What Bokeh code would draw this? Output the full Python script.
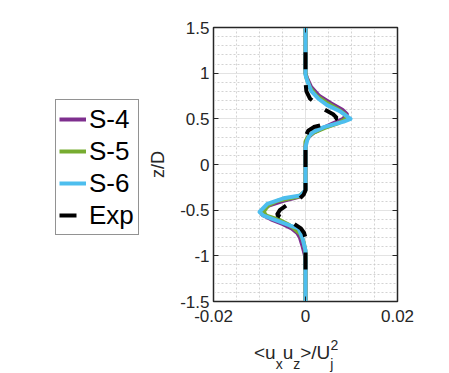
from bokeh.plotting import figure
from bokeh.models import (FixedTicker, Legend, LegendItem, LinearAxis, Range1d, Div)
from bokeh.layouts import column, row
from bokeh.embed import file_html
from bokeh.resources import INLINE

# ---------------- data ----------------
s4_z = [1.5, 1.0, 0.95, 0.85, 0.75, 0.67, 0.6, 0.55, 0.5, 0.45, 0.4, 0.35, 0.3, 0.25, 0.2,
        -0.28, -0.3, -0.35, -0.4, -0.45, -0.5, -0.55, -0.6, -0.65, -0.7, -0.75, -0.8, -0.9, -1.0, -1.05, -1.5]
s4_v = [0.0, 0.0, 0.0003, 0.0012, 0.0030, 0.0055, 0.0080, 0.0090, 0.0082, 0.0060, 0.0038, 0.0018, 0.0006, 0.0001, 0.0,
        0.0, -0.0002, -0.0012, -0.0050, -0.0080, -0.0093, -0.0094, -0.0075, -0.0050, -0.0030, -0.0018, -0.0012, -0.0006, -0.0001, 0.0, 0.0]

s5_z = [1.5, 1.0, 0.95, 0.85, 0.75, 0.67, 0.6, 0.55, 0.5, 0.45, 0.4, 0.35, 0.3, 0.25,
        -0.28, -0.3, -0.35, -0.4, -0.45, -0.52, -0.56, -0.61, -0.66, -0.7, -0.76, -0.85, -0.95, -1.5]
s5_v = [0.0, 0.0, 0.0002, 0.0009, 0.0024, 0.0048, 0.0072, 0.0086, 0.0088, 0.0070, 0.0042, 0.0018, 0.0005, 0.0,
        0.0, -0.0002, -0.0015, -0.0062, -0.0082, -0.0091, -0.0085, -0.0055, -0.0036, -0.0025, -0.0011, -0.0004, 0.0, 0.0]

s6_z = [1.5, 0.98, 0.9, 0.8, 0.72, 0.65, 0.58, 0.5, 0.47, 0.41, 0.36, 0.32, 0.27, 0.19,
        -0.28, -0.34, -0.37, -0.43, -0.52, -0.56, -0.61, -0.67, -0.70, -0.8, -0.94, -1.5]
s6_v = [0.0, 0.0, 0.0005, 0.0013, 0.0028, 0.0047, 0.0076, 0.0098, 0.0083, 0.0040, 0.0018, 0.0009, 0.0004, 0.0,
        0.0, -0.0011, -0.0048, -0.0083, -0.0100, -0.0091, -0.0065, -0.0033, -0.0015, -0.0007, 0.0, 0.0]

exp_z = [1.23, 0.9, 0.8, 0.72, 0.66, 0.6, 0.55, 0.51, 0.47, 0.44, 0.41, 0.37, 0.32, 0.28,
         -0.28, -0.33, -0.37, -0.41, -0.45, -0.5, -0.55, -0.6, -0.65, -0.7, -0.75, -0.8, -1.25]
exp_v = [0.0, 0.0, 0.0002, 0.0010, 0.0025, 0.0042, 0.0060, 0.0068, 0.0058, 0.0040, 0.0018, 0.0006, 0.0001, 0.0,
         0.0, -0.0004, -0.0012, -0.0028, -0.0042, -0.0056, -0.0062, -0.0045, -0.0025, -0.0010, -0.0003, 0.0, 0.0]

series_names = ["S-4", "S-5", "S-6", "Exp"]
series_colors = ["#7E2F8E", "#77AC30", "#4DBEEE", "#000000"]

x_ticks = [-0.02, 0.0, 0.02]
x_tick_labels = ["-0.02", "0", "0.02"]
x_minor = [-0.015, -0.01, -0.005, 0.005, 0.01, 0.015]
y_ticks = [-1.5, -1.0, -0.5, 0.0, 0.5, 1.0, 1.5]
y_tick_labels = ["-1.5", "-1", "-0.5", "0", "0.5", "1", "1.5"]
y_minor = [round(-1.5 + 0.1 * i, 1) for i in range(31)]
y_label = "z/D"
x_label_html = ("&lt;u<span class='sb'>x</span>u<span class='sb'>z</span>&gt;/U"
                "<span class='sb'>j</span><span class='sp'>2</span>")

FONT = "Liberation Sans"
TXT = "#262626"
LW = 4
EXP_DASH = "17 16"

# ---------------- main figure ----------------
LEG_W = 140
W, H = 433, 336
p = figure(width=W - LEG_W, height=H, output_backend="svg", toolbar_location=None,
           x_range=Range1d(-0.02, 0.02), y_range=Range1d(-1.5, 1.5),
           min_border_left=73, min_border_right=36, min_border_top=27, min_border_bottom=35,
           background_fill_color="white", border_fill_color="white")
p.outline_line_color = "#262626"
p.outline_line_width = 1.5

xt = FixedTicker(ticks=x_ticks, minor_ticks=x_minor)
yt = FixedTicker(ticks=y_ticks, minor_ticks=y_minor)
p.xaxis.ticker = xt
p.yaxis.ticker = yt
p.xaxis.major_label_overrides = dict(zip(x_ticks, x_tick_labels))
p.yaxis.major_label_overrides = dict(zip(y_ticks, y_tick_labels))

for ax in (p.xaxis, p.yaxis):
    ax.major_tick_in = 5
    ax.major_tick_out = 0
    ax.minor_tick_line_color = None
    ax.major_tick_line_color = TXT
    ax.axis_line_color = TXT
    ax.major_label_text_font = FONT
    ax.major_label_text_font_size = "17px"
    ax.major_label_text_color = TXT
p.xaxis.major_label_standoff = 4
p.yaxis.major_label_standoff = 0

p.yaxis.axis_label = y_label
p.yaxis.axis_label_text_font = FONT
p.yaxis.axis_label_text_font_size = "18px"
p.yaxis.axis_label_text_font_style = "normal"
p.yaxis.axis_label_text_color = TXT
p.yaxis.axis_label_standoff = 9

# mirrored ticks on top/right
for loc, tk in (("above", xt), ("right", yt)):
    a = LinearAxis(ticker=tk, major_tick_in=5, major_tick_out=0, minor_tick_line_color=None,
                   major_label_overrides={t: "" for t in tk.ticks}, major_label_standoff=0,
                   major_tick_line_color=TXT, axis_line_color=TXT)
    p.add_layout(a, loc)

# grids
p.xgrid.grid_line_color = "#e3e3e3"
p.ygrid.grid_line_color = "#e3e3e3"
p.xgrid.minor_grid_line_color = "#c8c8c8"
p.ygrid.minor_grid_line_color = "#c8c8c8"
p.xgrid.minor_grid_line_dash = "2 2"
p.ygrid.minor_grid_line_dash = "2 2"
p.xgrid.minor_grid_line_width = 0.8
p.ygrid.minor_grid_line_width = 0.8

# lines
zs = [s4_z, s5_z, s6_z, exp_z]
vs = [s4_v, s5_v, s6_v, exp_v]
for name, col, z, v in zip(series_names, series_colors, zs, vs):
    if name == "Exp":
        p.line(v, z, line_color=col, line_width=LW, line_dash=EXP_DASH)
    else:
        p.line(v, z, line_color=col, line_width=LW, line_join="round")

# ---------------- legend holder (outside the axes, to the left) ----------------
q = figure(width=LEG_W, height=H, output_backend="svg", toolbar_location=None,
           x_range=Range1d(0, 1), y_range=Range1d(0, 1),
           min_border=0, background_fill_color="white", border_fill_color="white")
q.axis.visible = False
q.grid.visible = False
q.outline_line_color = None
nan = float("nan")
items = []
for name, col in zip(series_names, series_colors):
    # legend-only proxy renderers (no visible data)
    if name == "Exp":
        r = q.line([nan], [nan], line_color=col, line_width=LW, line_dash=EXP_DASH)
    else:
        r = q.line([nan], [nan], line_color=col, line_width=LW)
    items.append(LegendItem(label=name, renderers=[r]))

leg = Legend(items=items, location=(55, 66), label_text_font=FONT, label_text_font_size="26px",
             label_text_color="#000000", label_height=32, glyph_height=32, glyph_width=27,
             label_width=46, label_standoff=3, spacing=0, padding=3, margin=0,
             border_line_color="#262626", border_line_width=1, background_fill_color="white",
             background_fill_alpha=1.0)
q.add_layout(leg, "center")

# ---------------- x-axis label (with sub/superscripts) ----------------
div = Div(text=x_label_html, width=W, height=373 - H,
          styles={"font-family": FONT, "font-size": "19px", "color": TXT,
                  "padding-left": "249px", "padding-top": "2px", "line-height": "19px",
                  "white-space": "nowrap"},
          stylesheets=[".sb{font-size:14px;position:relative;top:10px;}"
                       ".sp{font-size:14px;position:relative;top:-9px;margin-left:-3px;}"])

layout = column(row(q, p, spacing=0), div, spacing=0)
open("out.html", "w").write(file_html(layout, INLINE))
